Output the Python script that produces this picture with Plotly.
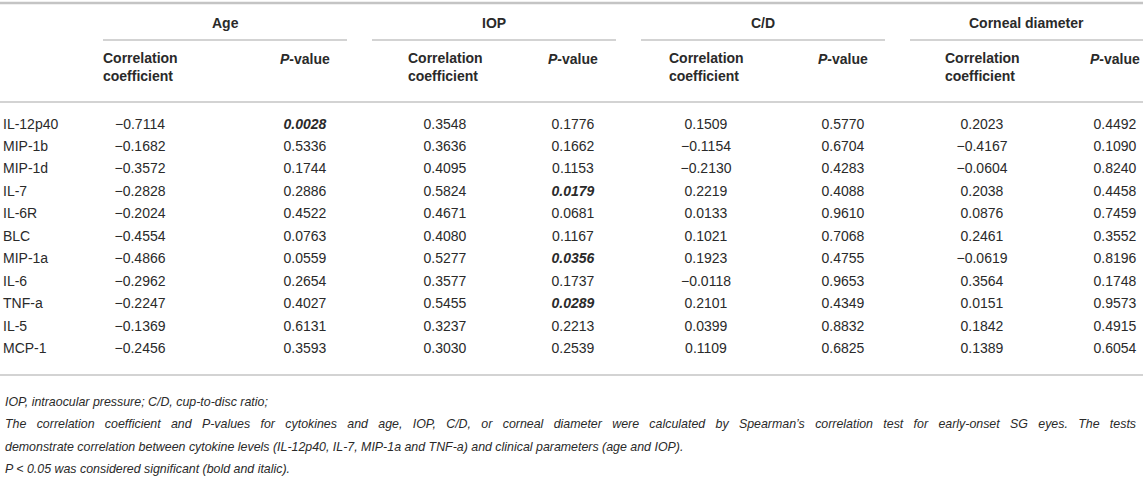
import plotly.graph_objects as go

# ---------------- data ----------------
cytokines = ["IL-12p40", "MIP-1b", "MIP-1d", "IL-7", "IL-6R", "BLC",
             "MIP-1a", "IL-6", "TNF-a", "IL-5", "MCP-1"]
groups = ["Age", "IOP", "C/D", "Corneal diameter"]
sub_headers = ["Correlation<br>coefficient", "<i>P</i>-value"]

age_r = [-0.7114, -0.1682, -0.3572, -0.2828, -0.2024, -0.4554, -0.4866, -0.2962, -0.2247, -0.1369, -0.2456]
age_p = [0.0028, 0.5336, 0.1744, 0.2886, 0.4522, 0.0763, 0.0559, 0.2654, 0.4027, 0.6131, 0.3593]
iop_r = [0.3548, 0.3636, 0.4095, 0.5824, 0.4671, 0.4080, 0.5277, 0.3577, 0.5455, 0.3237, 0.3030]
iop_p = [0.1776, 0.1662, 0.1153, 0.0179, 0.0681, 0.1167, 0.0356, 0.1737, 0.0289, 0.2213, 0.2539]
cd_r = [0.1509, -0.1154, -0.2130, 0.2219, 0.0133, 0.1021, 0.1923, -0.0118, 0.2101, 0.0399, 0.1109]
cd_p = [0.5770, 0.6704, 0.4283, 0.4088, 0.9610, 0.7068, 0.4755, 0.9653, 0.4349, 0.8832, 0.6825]
cor_r = [0.2023, -0.4167, -0.0604, 0.2038, 0.0876, 0.2461, -0.0619, 0.3564, 0.0151, 0.1842, 0.1389]
cor_p = [0.4492, 0.1090, 0.8240, 0.4458, 0.7459, 0.3552, 0.8196, 0.1748, 0.9573, 0.4915, 0.6054]

footnotes = [
    "IOP, intraocular pressure; C/D, cup-to-disc ratio;",
    "The correlation coefficient and P-values for cytokines and age, IOP, C/D, or corneal diameter were calculated by Spearman\u2019s correlation test for early-onset SG eyes. The tests",
    "demonstrate correlation between cytokine levels (IL-12p40, IL-7, MIP-1a and TNF-a) and clinical parameters (age and IOP).",
    "P < 0.05 was considered significant (bold and italic).",
]
justified_lines = [1]

# ---------------- layout constants ----------------
W, H = 1143, 498
FONT = "Liberation Sans, Arial, Helvetica, sans-serif"
TXT = "#2a2a2a"
LINE = "#c4c4c4"
ALPHA = 0.05
BODY = 14
FOOT = 12.4

group_start0, group_pitch, group_len = 103, 269, 244
corr_x = [140, 445, 706, 982]   # column centres (px)
p_x = [305, 573, 843, 1115]
label_x = 3
header_y, underline_y, sub_y, sep_y = 23, 40, 67, 102
row_y0, row_step = 125, 22.45
bottom_y = 375
foot_y0, foot_step = 402, 22.4


def fmt(v):
    s = f"{abs(v):.4f}"
    return ("\u2212" + s) if v < 0 else s


def fmt_p(v):
    s = f"{v:.4f}"
    return f"<b><i>{s}</i></b>" if v < ALPHA else s


fig = go.Figure()
row_ys = [row_y0 + i * row_step for i in range(len(cytokines))]
tfont = dict(family=FONT, size=BODY, color=TXT)

# row labels
fig.add_trace(go.Scatter(
    x=[label_x] * len(cytokines), y=row_ys, text=cytokines, mode="text",
    textposition="middle right", textfont=tfont, cliponaxis=False,
    hoverinfo="skip", showlegend=False))

pairs = [(age_r, age_p), (iop_r, iop_p), (cd_r, cd_p), (cor_r, cor_p)]
for g, (rv, pv) in enumerate(pairs):
    fig.add_trace(go.Scatter(
        x=[corr_x[g]] * len(rv), y=row_ys, text=[fmt(v) for v in rv],
        mode="text", textposition="middle center", textfont=tfont, cliponaxis=False,
        hoverinfo="skip", showlegend=False))
    fig.add_trace(go.Scatter(
        x=[p_x[g]] * len(pv), y=row_ys, text=[fmt_p(v) for v in pv], mode="text",
        textposition="middle center", textfont=tfont, cliponaxis=False,
        hoverinfo="skip", showlegend=False))

annotations = []
shapes = []
for g, name in enumerate(groups):
    gs = group_start0 + g * group_pitch
    ge = min(gs + group_len, W)
    annotations.append(dict(x=(gs + ge) / 2, y=header_y, text=f"<b>{name}</b>",
                            showarrow=False, xanchor="center", yanchor="middle", font=tfont))
    shapes.append(dict(type="line", x0=gs, x1=ge, y0=underline_y, y1=underline_y,
                       line=dict(color=LINE, width=1.5)))
    annotations.append(dict(x=corr_x[g], y=sub_y, text=f"<b>{sub_headers[0]}</b>",
                            showarrow=False, xanchor="center", yanchor="middle",
                            align="left", font=tfont))
    annotations.append(dict(x=p_x[g], y=59, text=f"<b>{sub_headers[1]}</b>",
                            showarrow=False, xanchor="center", yanchor="middle", font=tfont))

shapes.append(dict(type="line", x0=0, x1=W, y0=3, y1=3, line=dict(color=LINE, width=2.5)))
shapes.append(dict(type="line", x0=0, x1=W, y0=sep_y, y1=sep_y, line=dict(color=LINE, width=1.5)))
shapes.append(dict(type="line", x0=0, x1=W, y0=bottom_y, y1=bottom_y, line=dict(color=LINE, width=1.5)))

for i, t in enumerate(footnotes):
    if i in justified_lines:
        t = " \u00a0\u00a0".join(t.split(" "))
    annotations.append(dict(x=label_x, y=foot_y0 + i * foot_step, text=f"<i>{t}</i>",
                            showarrow=False, xanchor="left", yanchor="middle",
                            font=dict(family=FONT, size=FOOT, color=TXT)))

fig.update_layout(
    width=W, height=H, margin=dict(l=0, r=0, t=0, b=0),
    paper_bgcolor="white", plot_bgcolor="white",
    xaxis=dict(range=[0, W], visible=False, fixedrange=True),
    yaxis=dict(range=[H, 0], visible=False, fixedrange=True),
    annotations=annotations, shapes=shapes,
)

fig.write_html("out.html", config={"displayModeBar": False},
               post_script="document.body.style.margin='0';")
